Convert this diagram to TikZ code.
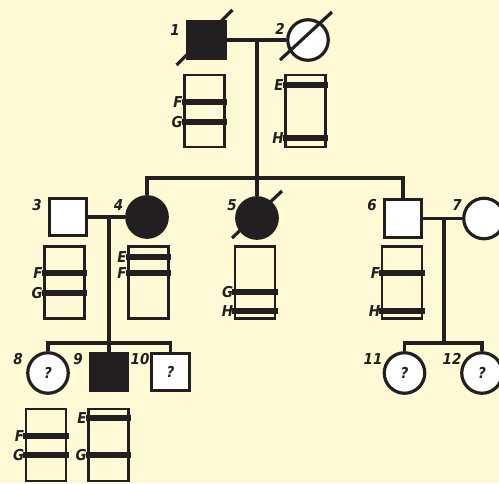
\documentclass[tikz,border=0pt]{standalone}
\usepackage{fontspec}
\newfontfamily\lblfont{DejaVu Sans Condensed}
\usetikzlibrary{calc}
\definecolor{bg}{HTML}{FFF9D6}
\definecolor{ink}{HTML}{231F20}
\tikzset{
  sym/.style={draw=ink, line width=3.2pt, inner sep=0pt, fill=white,
    font=\lblfont\fontsize{15}{15}\selectfont\bfseries\itshape, text=ink},
  sq/.style={sym, rectangle, minimum size=37.5pt},
  ci/.style={sym, circle, minimum size=40.5pt},
  aff/.style={fill=ink},
  chr/.style={rectangle, draw=ink, line width=2.8pt, minimum width=40pt, minimum height=72pt, inner sep=0pt},
  band/.style={draw=ink, line width=6.5pt},
  link/.style={draw=ink, line width=3.2pt},
  slash/.style={draw=ink, line width=3.2pt},
  num/.style={font=\lblfont\fontsize{15}{15}\selectfont\bfseries\itshape, text=ink, inner sep=0pt},
  blab/.style={font=\lblfont\fontsize{15}{15}\selectfont\bfseries\itshape, text=ink, inner sep=0pt, anchor=east},
}
\newcommand\band[3]{%
  \draw[band] ($(#1.west)+(-1.4,#2)$) -- ($(#1.east)+(1.4,#2)$);
  \node[blab] (#1-#3) at ($(#1.west)+(-0.3,#2)$) {#3};}
\begin{document}
\begin{tikzpicture}[x=1pt,y=-1pt]
\fill[bg] (0,0) rectangle (499,483);
\useasboundingbox (0,0) rectangle (499,483);
% generation I
\node[sq,aff] (i1) at (206.5,40) {};
\node[ci] (i2) at (308,40) {};
\coordinate (m12) at (257,40);
% generation II
\node[sq] (i3) at (68,217) {};
\node[ci,aff] (i4) at (147,217) {};
\node[ci,aff] (i5) at (257,218) {};
\node[sq] (i6) at (403,218.5) {};
\node[ci] (i7) at (484,218.5) {};
\coordinate (s2) at (257,178);
\coordinate (m34) at (109,217);
\coordinate (m67) at (444,218.5);
% generation III
\node[ci] (i8) at (48,373) {?};
\node[sq,aff] (i9) at (109,372) {};
\node[sq] (i10) at (170.5,372) {?};
\node[ci] (i11) at (404.5,373) {?};
\node[ci] (i12) at (482,373) {?};
\coordinate (s3) at (109,343);
\coordinate (s4) at (444,343);
% connectors
\draw[link] (i1.east) -- (i2.west);
\draw[link] (m12) -- (i5.north);
\draw[link] (i4.north) |- (s2) -| (i6.north);
\draw[link] (i3.east) -- (i4.west);
\draw[link] (m34) -- (i9.north);
\draw[link] (i8.north) |- (s3) -| (i10.north);
\draw[link] (i6.east) -- (i7.west);
\draw[link] (m67) -- (s4);
\draw[link] (i11.north) |- (s4) -| (i12.north);
% deceased slashes
\draw[slash] ($(i1.center)+(-30,25)$) -- ($(i1.center)+(26,-30)$);
\draw[slash] ($(i2.center)+(-28,20)$) -- ($(i2.center)+(24,-28)$);
\draw[slash] ($(i5.center)+(-25,20)$) -- ($(i5.center)+(25,-27)$);
% numbers
\node[num] (n1) at (175,30) {1};
\node[num] (n2) at (280,29) {2};
\node[num] (n3) at (37,205) {3};
\node[num] (n4) at (118.5,205) {4};
\node[num] (n5) at (232,205) {5};
\node[num] (n6) at (372,205) {6};
\node[num] (n7) at (457,205) {7};
\node[num] (n8) at (18,359) {8};
\node[num] (n9) at (78,359) {9};
\node[num] (n10) at (140,359) {10};
\node[num] (n11) at (373,359) {11};
\node[num] (n12) at (452,359) {12};
% chromosome boxes
\node[chr] (c1) at (204.5,111) {};
\band{c1}{-9}{F}
\band{c1}{11}{G}
\node[chr] (c2) at (305.5,111) {};
\band{c2}{-26}{E}
\band{c2}{27}{H}
\node[chr] (c3) at (64.5,282.5) {};
\band{c3}{-9.5}{F}
\band{c3}{10.5}{G}
\node[chr] (c4) at (148.5,282.5) {};
\band{c4}{-25.5}{E}
\band{c4}{-9.5}{F}
\node[chr] (c5) at (255,282.5) {};
\band{c5}{9.5}{G}
\band{c5}{28.5}{H}
\node[chr] (c6) at (402,282.5) {};
\band{c6}{-9.5}{F}
\band{c6}{28.5}{H}
\node[chr] (c8) at (46,445) {};
\band{c8}{-9}{F}
\band{c8}{10}{G}
\node[chr] (c9) at (108.5,445) {};
\band{c9}{-27}{E}
\band{c9}{10}{G}
\end{tikzpicture}
\end{document}
